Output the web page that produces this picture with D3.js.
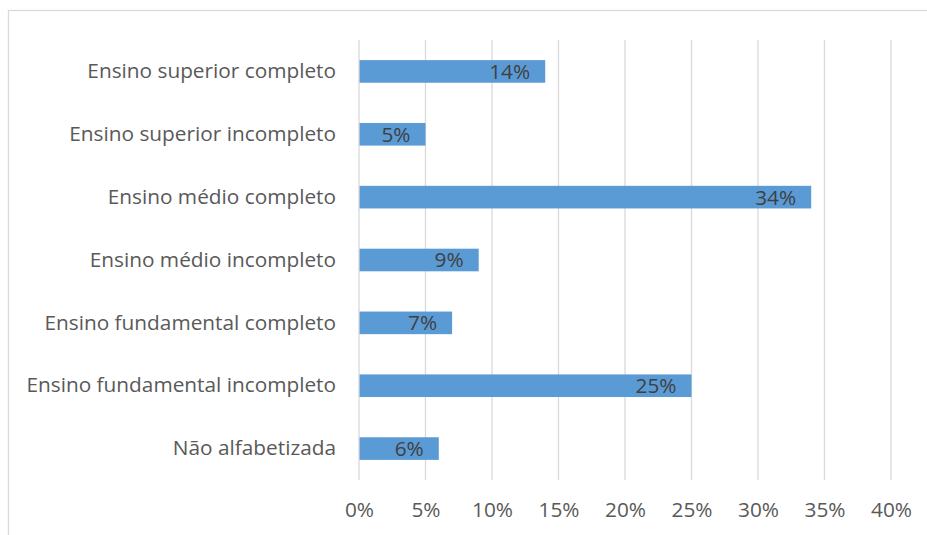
<!DOCTYPE html>
<html><head><meta charset="utf-8">
<script src="https://cdn.jsdelivr.net/npm/d3@7"></script>
<style>
html,body{margin:0;padding:0;background:#fff;}
svg{display:block;font-family:"Open Sans",sans-serif;}
</style></head>
<body>
<svg id="c" width="927" height="535"></svg>
<script>
const categories = ["Ensino superior completo","Ensino superior incompleto","Ensino médio completo","Ensino médio incompleto","Ensino fundamental completo","Ensino fundamental incompleto","Não alfabetizada"];
const values = [14,5,34,9,7,25,6];
const tickValues = [0,5,10,15,20,25,30,35,40];

const FS = 20.8;
const svg = d3.select("#c");
// chart border
svg.append("rect").attr("x",8.5).attr("y",10.5).attr("width",940).attr("height",560)
  .attr("fill","none").attr("stroke","#d9d9d9").attr("stroke-width",1.3);

const x = d3.scaleLinear().domain([0,40]).range([359,891]);
const y = d3.scaleBand().domain(categories).range([40,480]).paddingInner(0.64).paddingOuter(0.32);

// gridlines
svg.append("g").selectAll("line").data(tickValues.slice(1)).join("line")
  .attr("x1",d=>x(d)).attr("x2",d=>x(d)).attr("y1",40).attr("y2",480)
  .attr("stroke","#d9d9d9").attr("stroke-width",1.3);

// bars
svg.append("g").selectAll("rect").data(values).join("rect")
  .attr("x",x(0)).attr("y",(d,i)=>y(categories[i]))
  .attr("width",d=>x(d)-x(0)).attr("height",y.bandwidth())
  .attr("fill","#5b9bd5");

// axis line at 0
svg.append("line").attr("x1",x(0)).attr("x2",x(0)).attr("y1",40).attr("y2",480)
  .attr("stroke","#d9d9d9").attr("stroke-width",1.3);

// data labels
svg.append("g").selectAll("text").data(values).join("text")
  .attr("x",d=>x(d)-15).attr("y",(d,i)=>y(categories[i])+y.bandwidth()/2)
  .attr("dy","0.36em").attr("text-anchor","end")
  .attr("font-size",FS).attr("fill","#404040").text(d=>d+"%");

// category labels
const yAxis = d3.axisLeft(y).tickSize(0).tickPadding(23);
const gy = svg.append("g").attr("transform",`translate(${x(0)},0)`).call(yAxis);
gy.select(".domain").remove();
gy.selectAll("text").attr("font-size",FS).attr("fill","#595959").attr("font-family","Open Sans, sans-serif");

// x axis
const xAxis = d3.axisBottom(x).tickValues(tickValues).tickSize(0).tickPadding(22).tickFormat(d=>d+"%");
const gx = svg.append("g").attr("transform","translate(0,480)").call(xAxis);
gx.select(".domain").remove();
gx.selectAll("text").attr("font-size",FS).attr("fill","#595959").attr("font-family","Open Sans, sans-serif");
</script>
</body></html>
